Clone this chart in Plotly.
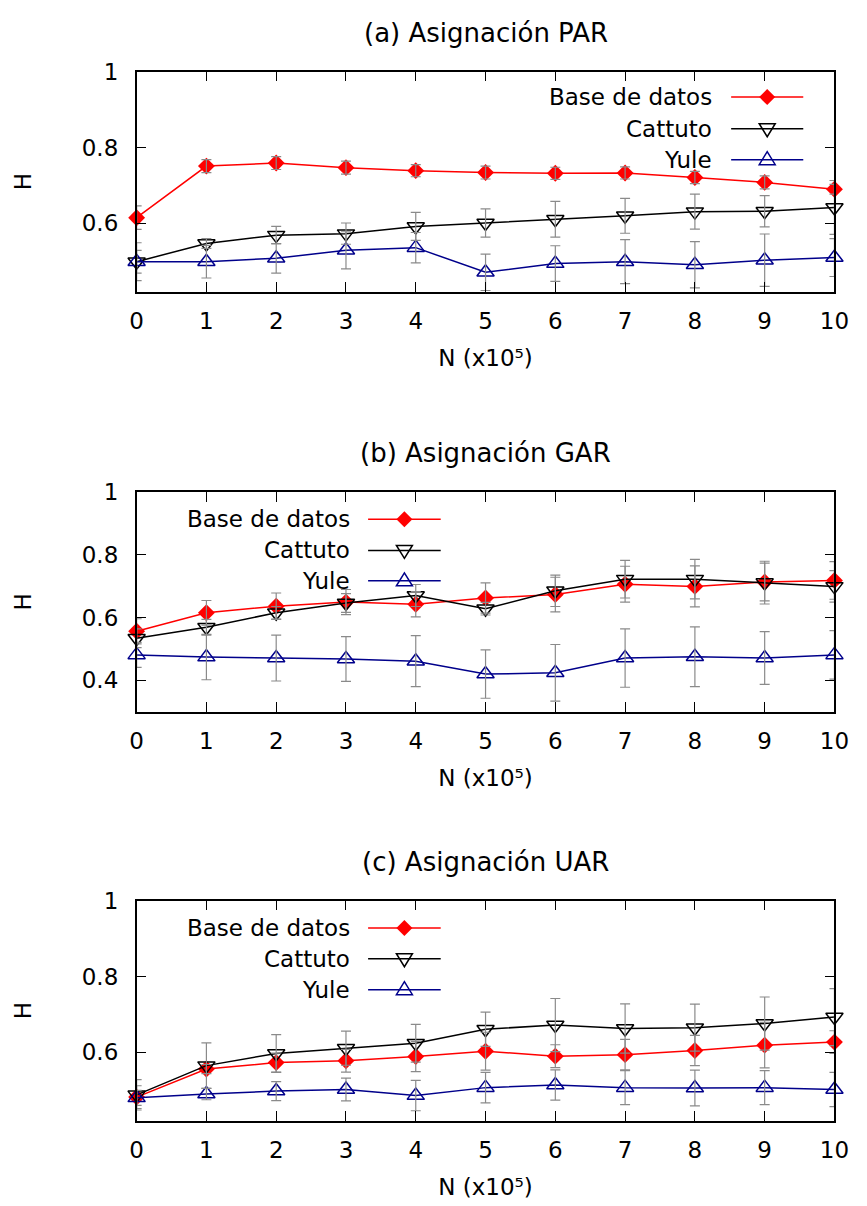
import plotly.graph_objects as go

# ---------------- data ----------------
N = [0, 1, 2, 3, 4, 5, 6, 7, 8, 9, 10]
x_tick_text = ["0", "1", "2", "3", "4", "5", "6", "7", "8", "9", "10"]

# (a) Asignación PAR
par_base = [0.615, 0.751, 0.759, 0.747, 0.739, 0.734, 0.732, 0.733, 0.721, 0.708, 0.690]
par_base_err = [0.031, 0.017, 0.017, 0.017, 0.016, 0.017, 0.016, 0.016, 0.016, 0.017, 0.013]
par_cattuto = [0.499, 0.547, 0.569, 0.573, 0.592, 0.601, 0.611, 0.620, 0.631, 0.632, 0.642]
par_cattuto_err = [0.050, 0.013, 0.023, 0.028, 0.037, 0.037, 0.047, 0.046, 0.046, 0.041, 0.071]
par_yule = [0.499, 0.499, 0.508, 0.529, 0.536, 0.471, 0.494, 0.499, 0.491, 0.503, 0.510]
par_yule_err = [0.030, 0.043, 0.039, 0.049, 0.040, 0.048, 0.047, 0.058, 0.061, 0.069, 0.050]

# (b) Asignación GAR
gar_base = [0.556, 0.615, 0.636, 0.649, 0.642, 0.662, 0.673, 0.706, 0.699, 0.713, 0.718]
gar_base_err = [0.040, 0.039, 0.042, 0.040, 0.040, 0.048, 0.055, 0.057, 0.065, 0.060, 0.060]
gar_cattuto = [0.534, 0.569, 0.615, 0.646, 0.670, 0.628, 0.685, 0.722, 0.722, 0.711, 0.699]
gar_cattuto_err = [0.030, 0.025, 0.020, 0.030, 0.035, 0.020, 0.050, 0.060, 0.063, 0.068, 0.050]
gar_yule = [0.481, 0.474, 0.471, 0.468, 0.461, 0.420, 0.424, 0.471, 0.475, 0.471, 0.481]
gar_yule_err = [0.040, 0.072, 0.073, 0.071, 0.081, 0.077, 0.090, 0.093, 0.095, 0.084, 0.077]

# (c) Asignación UAR
uar_base = [0.482, 0.556, 0.573, 0.578, 0.589, 0.603, 0.590, 0.594, 0.605, 0.619, 0.627]
uar_base_err = [0.030, 0.012, 0.025, 0.030, 0.040, 0.050, 0.030, 0.040, 0.040, 0.060, 0.030]
uar_cattuto = [0.488, 0.565, 0.597, 0.611, 0.624, 0.661, 0.672, 0.663, 0.665, 0.676, 0.693]
uar_cattuto_err = [0.040, 0.060, 0.050, 0.045, 0.050, 0.045, 0.070, 0.065, 0.062, 0.070, 0.075]
uar_yule = [0.480, 0.490, 0.498, 0.502, 0.486, 0.507, 0.514, 0.507, 0.506, 0.507, 0.502]
uar_yule_err = [0.020, 0.015, 0.025, 0.030, 0.040, 0.040, 0.040, 0.045, 0.047, 0.045, 0.045]

series_names = ["Base de datos", "Cattuto", "Yule"]
panel_titles = ["(a) Asignación PAR", "(b) Asignación GAR", "(c) Asignación UAR"]
y_ranges = [[0.42, 1.0], [0.30, 1.0], [0.42, 1.0]]
y_tick_vals = [0.4, 0.6, 0.8, 1.0]
y_tick_text = ["0.4", "0.6", "0.8", "1"]
x_title = "N (x10⁵)"
y_title = "H"

panels_data = [
    [(par_base, par_base_err), (par_cattuto, par_cattuto_err), (par_yule, par_yule_err)],
    [(gar_base, gar_base_err), (gar_cattuto, gar_cattuto_err), (gar_yule, gar_yule_err)],
    [(uar_base, uar_base_err), (uar_cattuto, uar_cattuto_err), (uar_yule, uar_yule_err)],
]

# ---------------- styling / layout ----------------
W, H = 867, 1206
FONT = "DejaVu Sans"
FS = 23
TITLE_FS = 26
colors = ["#ff0000", "#000000", "#00008b"]
symbols = ["diamond", "triangle-down-open", "triangle-up-open"]
msizes = [13, 15, 15]
ERR_COLOR = "#8a8a8a"

def px(x):
    return x / W

def py(y):
    return 1 - y / H

plot_left, plot_right = 133, 849
panel_tops = [59.3, 484.0, 897.3]
panel_h = 222.4
title_y = [20, 445, 858]

legend_rows = [[85, 117, 148.3], [511.7, 543.3, 574], [925, 956, 987.3]]
legend_text_right = [725, 354.3, 354.3]
legend_line = [(743, 817), (370.5, 445), (370.5, 445)]

fig = go.Figure()
annotations = []
shapes = []

for i in range(3):
    xa = "x" if i == 0 else f"x{i+1}"
    ya = "y" if i == 0 else f"y{i+1}"
    # lines + points
    for s in range(3):
        vals, errs = panels_data[i][s]
        fig.add_trace(go.Scatter(
            x=N, y=vals, xaxis=xa, yaxis=ya, mode="lines+markers",
            name=series_names[s], showlegend=False, cliponaxis=False,
            line=dict(color=colors[s], width=1.5),
            marker=dict(symbol=symbols[s], size=msizes[s], color=colors[s],
                        line=dict(color=colors[s], width=1.5 if s > 0 else 0)),
        ))
    # error bars (drawn on top, gray)
    for s in range(3):
        vals, errs = panels_data[i][s]
        fig.add_trace(go.Scatter(
            x=N, y=vals, xaxis=xa, yaxis=ya, mode="markers",
            showlegend=False, hoverinfo="skip", cliponaxis=False,
            marker=dict(size=1, color="rgba(0,0,0,0)"),
            error_y=dict(type="data", array=errs, visible=True,
                         color=ERR_COLOR, thickness=1.2, width=5),
        ))

    top = panel_tops[i]
    bottom = top + panel_h
    axis_common = dict(showline=True, linecolor="black", linewidth=1.5,
                       mirror="allticks", ticks="inside", ticklen=10,
                       tickwidth=1, tickcolor="black", showgrid=False,
                       zeroline=False,
                       tickfont=dict(family=FONT, size=FS, color="black"))
    fig.update_layout(**{
        ("xaxis" if i == 0 else f"xaxis{i+1}"): dict(
            axis_common, domain=[px(plot_left), px(plot_right)], range=[0, 10],
            anchor=ya, tickmode="array", tickvals=N, ticktext=x_tick_text,
            ticklabelstandoff=8,
            title=dict(text=x_title, standoff=17,
                       font=dict(family=FONT, size=FS, color="black"))),
        ("yaxis" if i == 0 else f"yaxis{i+1}"): dict(
            axis_common, domain=[py(bottom), py(top)], range=y_ranges[i],
            anchor=xa, tickmode="array", tickvals=y_tick_vals,
            ticktext=y_tick_text, ticklabelstandoff=12,
            title=dict(text=y_title, standoff=44,
                       font=dict(family=FONT, size=FS, color="black"))),
    })

    # panel titles
    cx = (plot_left + plot_right) / 2
    annotations.append(dict(text=panel_titles[i], x=px(cx), y=py(title_y[i]),
                            xref="paper", yref="paper", showarrow=False,
                            xanchor="center", yanchor="middle",
                            font=dict(family=FONT, size=TITLE_FS, color="black")))

    # key (gnuplot style: text left, sample right)
    lx0, lx1 = legend_line[i]
    mx = (lx0 + lx1) / 2
    marker_paths = [
        "M -8 0 L 0 8 L 8 0 L 0 -8 Z",
        "M -8 5 L 8 5 L 0 -8 Z",
        "M -8 -5 L 8 -5 L 0 8 Z",
    ]
    for s in range(3):
        ry = legend_rows[i][s]
        annotations.append(dict(text=series_names[s], x=px(legend_text_right[i]),
                                y=py(ry), xref="paper", yref="paper",
                                showarrow=False, xanchor="right", yanchor="middle",
                                font=dict(family=FONT, size=FS, color="black")))
        shapes.append(dict(type="line", xref="paper", yref="paper",
                           x0=px(lx0), x1=px(lx1), y0=py(ry), y1=py(ry),
                           line=dict(color=colors[s], width=1.5)))
        shapes.append(dict(type="path", xref="paper", yref="paper",
                           xsizemode="pixel", ysizemode="pixel",
                           xanchor=px(mx), yanchor=py(ry),
                           path=marker_paths[s],
                           fillcolor=colors[s] if s == 0 else "rgba(0,0,0,0)",
                           line=dict(color=colors[s], width=0 if s == 0 else 1.5)))

fig.update_layout(width=W, height=H, margin=dict(l=0, r=0, t=0, b=0),
                  paper_bgcolor="white", plot_bgcolor="white",
                  showlegend=False, annotations=annotations, shapes=shapes,
                  font=dict(family=FONT, size=FS, color="black"))

fig.write_html("out.html")
